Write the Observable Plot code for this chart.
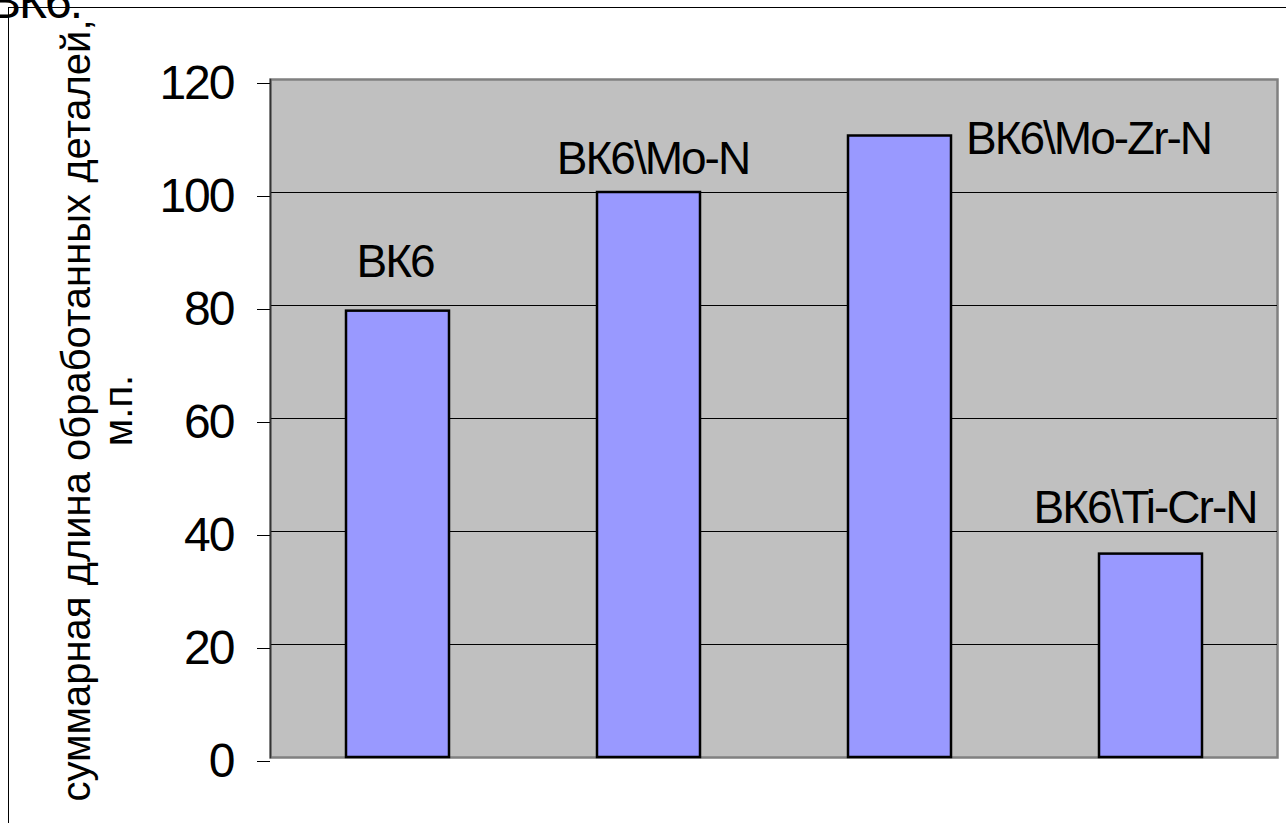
<!DOCTYPE html>
<html>
<head>
<meta charset="utf-8">
<script src="https://cdn.jsdelivr.net/npm/d3@7"></script>
<script src="https://cdn.jsdelivr.net/npm/@observablehq/plot@0.6"></script>
<style>
  html, body { margin: 0; padding: 0; background: #fff; overflow: hidden; }
  #wrap { position: relative; width: 1286px; height: 823px; overflow: hidden; }
  #box { position: absolute; left: 8px; top: 7px; width: 1300px; height: 840px;
         border-left: 1.5px solid #000; border-top: 1.5px solid #000; }
  #chart { position: absolute; left: 0; top: 0; }
  #heading { position: absolute; left: 0; top: 0; }
  #chart svg .tight text, #chart svg text.tight { letter-spacing: -2px; }
</style>
</head>
<body>
<div id="wrap">
  <div id="box"></div>
  <div id="chart"></div>
  <svg id="heading" width="200" height="40"></svg>
</div>
<script>
// Coatings on the ВК6 carbide insert and total machined length, m
const categories = ["ВК6", "ВК6\\Mo-N", "ВК6\\Mo-Zr-N", "ВК6\\Ti-Cr-N"];
const lengths = [79, 100, 110, 36];
const yTicks = [0, 20, 40, 60, 80, 100, 120];
const gridTicks = [20, 40, 60, 80, 100];
const yTitle = "суммарная длина обработанных деталей,\nм.п.";
const headingText = "ВК6.";

const rows = categories.map((category, i) => ({category, length: lengths[i]}));

const font = "'Liberation Sans', Arial, sans-serif";

// Label above (or beside) a single bar
function barLabel(i, options) {
  return Plot.text([rows[i]], {
    x: "category",
    y: "length",
    text: "category",
    fontSize: 46,
    fill: "#000",
    lineAnchor: "bottom",
    className: "tight",
    ...options
  });
}

const chart = Plot.plot({
  width: 1286,
  height: 823,
  marginLeft: 270,
  marginRight: 9,
  marginTop: 79,
  marginBottom: 66,
  style: {fontFamily: font, background: "transparent", color: "#000"},
  x: {domain: categories, paddingInner: 0.59, paddingOuter: 0.295, axis: null},
  y: {domain: [0, 120], axis: null},
  marks: [
    Plot.frame({fill: "#c0c0c0", stroke: "#808080", strokeWidth: 2.5}),
    Plot.gridY(gridTicks, {stroke: "#000", strokeOpacity: 1, strokeWidth: 1}),
    Plot.axisY({
      ticks: yTicks,
      tickSize: 13,
      tickPadding: 24,
      fontSize: 48,
      dy: 4,
      label: null,
      stroke: "#000",
      className: "tight"
    }),
    Plot.frame({anchor: "left", stroke: "#333", strokeWidth: 1.5}),
    Plot.barY(rows, {
      x: "category",
      y: "length",
      fill: "#9999ff",
      stroke: "#000",
      strokeWidth: 2.5
    }),
    barLabel(0, {dx: -3, dy: -34}),
    barLabel(1, {dx: 4, dy: -19}),
    barLabel(2, {textAnchor: "start", dx: 66, dy: 18}),
    barLabel(3, {dx: -6, dy: -31}),
    Plot.text([yTitle], {
      frameAnchor: "left",
      text: d => d,
      rotate: -90,
      fontSize: 40,
      lineHeight: 1.05,
      textAnchor: "middle",
      lineAnchor: "bottom",
      dx: -139,
      dy: -8,
      fill: "#000"
    })
  ]
});

document.getElementById("chart").appendChild(chart);

// Fragment of the slide heading, running off the top edge
d3.select("#heading")
  .append("text")
  .attr("x", 81)
  .attr("y", 18)
  .attr("text-anchor", "end")
  .attr("font-family", font)
  .attr("font-size", 48)
  .attr("letter-spacing", "-2")
  .text(headingText);
</script>
</body>
</html>
